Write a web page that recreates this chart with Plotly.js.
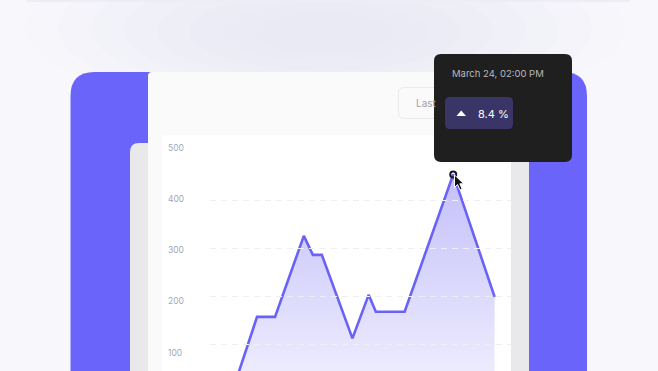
<!DOCTYPE html>
<html>
<head>
<meta charset="utf-8">
<script src="https://cdn.plot.ly/plotly-3.0.1.min.js"></script>
<style>html,body{margin:0;padding:0;background:#f8f8fc;}#chart{width:658px;height:371px;}</style>
</head>
<body>
<div id="chart"></div>
<script>
// ---- data ----
const hours  = [1.5, 3.1, 4.1, 5.7, 6.2, 6.7, 8.4, 9.3, 9.7, 11.3, 14.0, 16.3];
const values = [0, 170, 170, 328, 291, 291, 128, 213, 180, 180, 448, 209];
const yTickVals = [100, 200, 300, 400, 500];
const yTickText = ["100", "200", "300", "400", "500"];
const gridVals = [100, 200, 300, 400];
const peakIndex = 10;
const tooltipDate = "March 24, 02:00 PM";
const tooltipValue = "8.4 %";
const buttonLabel = "Last";

// ---- helpers for decorative shapes (pixel -> paper) ----
const W = 658, H = 371;
const P = (x, y) => (x / W).toFixed(5) + "," + (1 - y / H).toFixed(5);
function rr(x0, y0, x1, y1, r) {
  const [a, b, c, d] = Array.isArray(r) ? r : [r, r, r, r];
  return "M" + P(x0 + a, y0) + " L" + P(x1 - b, y0) + " Q" + P(x1, y0) + " " + P(x1, y0 + b) +
    " L" + P(x1, y1 - c) + " Q" + P(x1, y1) + " " + P(x1 - c, y1) +
    " L" + P(x0 + d, y1) + " Q" + P(x0, y1) + " " + P(x0, y1 - d) +
    " L" + P(x0, y0 + a) + " Q" + P(x0, y0) + " " + P(x0 + a, y0) + " Z";
}
function poly(pts) {
  return "M" + pts.map(p => P(p[0], p[1])).join(" L") + " Z";
}
const ell = (x0, y0, x1, y1, color, op) => ({type: "circle", xref: "paper", yref: "paper",
  x0: x0 / W, x1: x1 / W, y0: 1 - y1 / H, y1: 1 - y0 / H, fillcolor: color, opacity: op,
  line: {width: 0}, layer: "below"});
const pathShape = (path, fill, layer, line) => ({type: "path", xref: "paper", yref: "paper",
  path: path, fillcolor: fill, line: line || {width: 0}, layer: layer});

// soft haze behind the top of the card
const haze = [];
for (let i = 0; i < 8; i++) {
  const f = 1 - i * 0.11;
  haze.push(ell(325 - 300 * f, 35 - 95 * f, 325 + 300 * f, 35 + 80 * f, "#d8d8e8", 0.05));
}

const shapes = haze.concat([
  {type: "rect", xref: "paper", yref: "paper", x0: 27 / W, x1: 630 / W, y0: 1 - 2 / H, y1: 1,
   fillcolor: "#ededf5", line: {width: 0}, layer: "below"},
  pathShape(rr(70.5, 72, 587, 430, [24, 24, 0, 0]), "#6b64fa", "below"),
  pathShape(rr(130, 143, 529, 430, [9, 0, 0, 0]), "#e9e9ec", "below"),
  pathShape(rr(148, 72, 511, 430, [4, 0, 0, 0]), "#fafafa", "below"),
  pathShape(rr(398.5, 87.5, 470, 118.5, 6), "#fafafa", "below", {color: "#eaeaee", width: 1}),
  {type: "rect", xref: "paper", yref: "paper", x0: 162 / W, x1: 511 / W, y0: -0.2, y1: 1 - 135 / H,
   fillcolor: "#ffffff", line: {width: 0}, layer: "below"},
  // tooltip
  pathShape(rr(434, 54, 572, 162, 7), "#1f1f1f", "above"),
  pathShape(rr(445, 97, 513, 129, 5), "#3a3567", "above"),
  pathShape(poly([[456.5, 116], [466, 116], [461.2, 110.5]]), "#ffffff", "above"),
  // cursor
  pathShape(poly([[454.5, 175], [454.5, 187.5], [457.5, 184.5], [460, 190], [462.2, 189], [459.8, 183.8], [463.8, 183.8]]),
    "#111111", "above", {color: "#ffffff", width: 1})
]);

const annotations = [
  {xref: "paper", yref: "paper", x: 413.5 / W, y: 1 - 103.3 / H, xanchor: "left", yanchor: "middle",
   text: buttonLabel, showarrow: false, font: {family: "Inter", size: 10, color: "#a0a0ad"}},
  {xref: "paper", yref: "paper", x: 450 / W, y: 1 - 73.3 / H, xanchor: "left", yanchor: "middle",
   text: tooltipDate, showarrow: false, font: {family: "Inter", size: 9.5, color: "#b9b9bb"}},
  {xref: "paper", yref: "paper", x: 476.5 / W, y: 1 - 114 / H, xanchor: "left", yanchor: "middle",
   text: tooltipValue, showarrow: false, font: {family: "Inter", size: 11, color: "#ffffff"}}
];

const traces = [
  {x: [], y: [], xaxis: "x2", yaxis: "y2", type: "scatter", showlegend: false, hoverinfo: "skip"},
  {x: hours, y: values, type: "scatter", mode: "lines", fill: "tozeroy",
   line: {color: "#6a62f7", width: 2.6},
   fillgradient: {type: "vertical", colorscale: [[0, "#f3f2fe"], [1, "#c4c0fa"]]},
   hoverinfo: "skip", showlegend: false},
  {x: [hours[peakIndex]], y: [values[peakIndex]], type: "scatter", mode: "markers",
   marker: {symbol: "circle-open", size: 6, color: "#1a1a1a", line: {width: 2, color: "#1a1a1a"}},
   hoverinfo: "skip", showlegend: false}
];

const layout = {
  width: W, height: H, autosize: false,
  margin: {l: 0, r: 0, t: 0, b: 0, pad: 0},
  paper_bgcolor: "#f8f8fc", plot_bgcolor: "rgba(0,0,0,0)",
  showlegend: false,
  xaxis: {domain: [162 / W, 511 / W], range: [-2.18, 17.21], visible: false, fixedrange: true},
  yaxis: {domain: [0, 1], range: [64.4, 788.3], tickvals: yTickVals, ticktext: yTickText,
    showgrid: false, zeroline: false, showline: false, ticks: "", ticklabelposition: "inside",
    ticklabelstandoff: 3,
    tickfont: {family: "Inter", size: 8.5, color: "#a3a7b8"}, fixedrange: true},
  xaxis2: {domain: [210 / W, 511 / W], anchor: "y2", range: [0, 1], visible: false, fixedrange: true},
  yaxis2: {domain: [0, 1], anchor: "x2", range: [45.9, 817.3], tickvals: gridVals,
    showticklabels: false, showgrid: true, gridcolor: "#eeeef3", griddash: "6px,5px", gridwidth: 1,
    zeroline: false, showline: false, ticks: "", fixedrange: true},
  shapes: shapes,
  annotations: annotations
};

Plotly.newPlot("chart", traces, layout, {displayModeBar: false, staticPlot: true});
</script>
</body>
</html>
